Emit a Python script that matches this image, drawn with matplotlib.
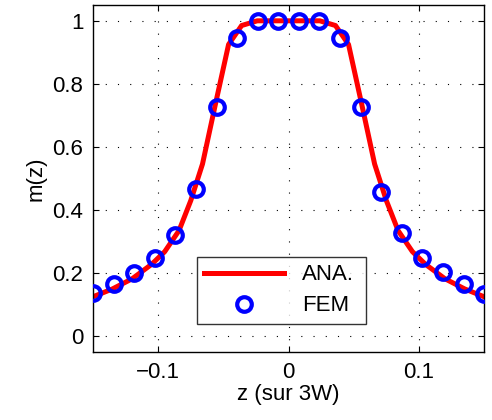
import numpy as np
import matplotlib
matplotlib.use("Agg")
import matplotlib.pyplot as plt

plt.rcParams['font.family'] = ['Liberation Sans', 'DejaVu Sans']

# analytical curve
ana_z = [-0.15, -0.135, -0.12, -0.105, -0.095, -0.084, -0.075, -0.066, -0.0565, -0.046, -0.036, -0.024, -0.012, 0.0,
         0.012, 0.024, 0.036, 0.046, 0.0565, 0.066, 0.075, 0.084, 0.095, 0.105, 0.12, 0.135, 0.15]
ana_m = [0.125, 0.150, 0.182, 0.228, 0.268, 0.335, 0.430, 0.546, 0.728, 0.925, 0.985, 1.0, 1.0, 1.0,
         1.0, 1.0, 0.985, 0.925, 0.728, 0.546, 0.430, 0.335, 0.268, 0.228, 0.182, 0.150, 0.125]

# FEM points
fem_z = np.linspace(-0.15, 0.15, 20)
fem_m = [0.136, 0.166, 0.200, 0.247, 0.321, 0.467, 0.728, 0.944, 0.998, 1.0,
         1.0, 0.998, 0.944, 0.728, 0.456, 0.326, 0.248, 0.203, 0.164, 0.134]

fs = 16

fig = plt.figure(figsize=(4.92, 4.2), dpi=100)
ax = fig.add_axes([0.189, 0.162, 0.795, 0.826])

ax.plot(ana_z, ana_m, color='#ff0000', lw=3.6, label='ANA.', zorder=2)
ax.plot(fem_z, fem_m, 'o', mfc='none', mec='#0000ff', mew=3.0, ms=10.5, label='FEM', zorder=3)

ax.set_xlim(-0.15, 0.15)
ax.set_ylim(-0.05, 1.05)
ax.set_xticks([-0.1, 0, 0.1])
ax.set_xticklabels(['\u22120.1', '0', '0.1'])
ax.set_yticks([0, 0.2, 0.4, 0.6, 0.8, 1.0])
ax.set_yticklabels(['0', '0.2', '0.4', '0.6', '0.8', '1'])
ax.tick_params(direction='in', top=True, right=True, length=4, width=0.8, labelsize=fs, pad=7)
ax.grid(True, color='black', linestyle=(0, (1, 10)), linewidth=0.8)
for s in ax.spines.values():
    s.set_linewidth(1.0)

ax.set_xlabel('z (sur 3W)', fontsize=fs, labelpad=1)
ax.set_ylabel('m(z)', fontsize=fs, labelpad=4)

leg = ax.legend(loc='lower left', bbox_to_anchor=(0.265, 0.08, 0.432, 0.214), mode='expand',
                fontsize=fs, handlelength=3.6, frameon=True, fancybox=False,
                edgecolor='black', borderaxespad=0, labelspacing=0.45, borderpad=0.35)
leg.get_frame().set_linewidth(1.0)

fig.savefig('out.png', dpi=100)
